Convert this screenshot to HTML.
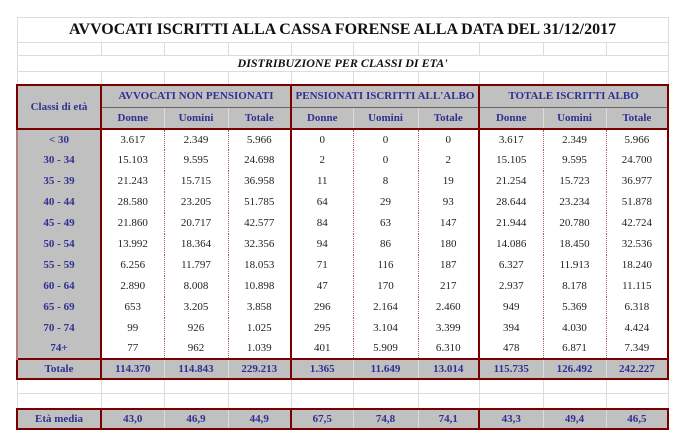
<!DOCTYPE html>
<html><head><meta charset="utf-8"><style>
body{margin:0;background:#fff;width:682px;height:446px;overflow:hidden;font-family:"Liberation Serif",serif;}
table{position:absolute;left:16px;top:17px;border-collapse:collapse;table-layout:fixed;width:651px;}
td{padding:0;text-align:center;font-size:11px;color:#222;border:1px solid #dcdcdc;white-space:nowrap;overflow:hidden;}
.t{font-size:16px;font-weight:bold;color:#111;border-bottom:1px solid #dcdcdc;}
.d{font-size:12px;font-weight:bold;font-style:italic;color:#111;}
.g{background:#c0c0c0;color:#2e3192;font-weight:bold;}
.R{border-right:2px solid #7a0000!important;}
.L{border-left:2px solid #7a0000!important;}
.T{border-top:2px solid #7a0000!important;}
.B{border-bottom:2px solid #7a0000!important;}
.dt{border-left:1px dotted #a06060;border-right:1px dotted #a06060;border-top:none;border-bottom:none;}
.h2 td{border-bottom:2px solid #7a0000;}
.gl{background:#c0c0c0;color:#2e3192;font-weight:bold;border-left:2px solid #b08080;border-right:2px solid #7a0000;border-top:none;border-bottom:none;}
</style></head><body>
<table>
<colgroup><col style="width:84px"><col style="width:63px"><col style="width:64px"><col style="width:63px"><col style="width:62px"><col style="width:65px"><col style="width:61px"><col style="width:64px"><col style="width:63px"><col style="width:62px"></colgroup>
<tr style="height:25px"><td colspan="10" class="t">AVVOCATI ISCRITTI ALLA CASSA FORENSE ALLA DATA DEL 31/12/2017</td></tr>
<tr style="height:13px"><td></td><td></td><td></td><td></td><td></td><td></td><td></td><td></td><td></td><td></td></tr>
<tr style="height:14px"><td colspan="10" class="d" style="border-bottom:1px solid #dcdcdc">DISTRIBUZIONE PER CLASSI DI ETA'</td></tr>
<tr style="height:13px"><td></td><td></td><td></td><td></td><td></td><td></td><td></td><td></td><td></td><td></td></tr>
<tr style="height:23px"><td rowspan="2" class="g T L R B" style="border-bottom:2px solid #7a0000">Classi di età</td><td colspan="3" class="g T R" style="border-bottom:1px solid #666">AVVOCATI NON PENSIONATI</td><td colspan="3" class="g T R" style="border-bottom:1px solid #666">PENSIONATI ISCRITTI ALL'ALBO</td><td colspan="3" class="g T R" style="border-bottom:1px solid #666">TOTALE ISCRITTI ALBO</td></tr>
<tr style="height:21px" class="h2"><td class="g" style="border-left:none;border-right:1px dotted #a06060">Donne</td><td class="g" style="border-right:1px dotted #a06060">Uomini</td><td class="g R">Totale</td><td class="g" style="border-right:1px dotted #a06060">Donne</td><td class="g" style="border-right:1px dotted #a06060">Uomini</td><td class="g R">Totale</td><td class="g" style="border-right:1px dotted #a06060">Donne</td><td class="g" style="border-right:1px dotted #a06060">Uomini</td><td class="g R">Totale</td></tr>
<tr style="height:21px"><td class="gl">&lt; 30</td><td class="dt">3.617</td><td class="dt">2.349</td><td class="dt R">5.966</td><td class="dt">0</td><td class="dt">0</td><td class="dt R">0</td><td class="dt">3.617</td><td class="dt">2.349</td><td class="dt R">5.966</td></tr>
<tr style="height:21px"><td class="gl">30 - 34</td><td class="dt">15.103</td><td class="dt">9.595</td><td class="dt R">24.698</td><td class="dt">2</td><td class="dt">0</td><td class="dt R">2</td><td class="dt">15.105</td><td class="dt">9.595</td><td class="dt R">24.700</td></tr>
<tr style="height:21px"><td class="gl">35 - 39</td><td class="dt">21.243</td><td class="dt">15.715</td><td class="dt R">36.958</td><td class="dt">11</td><td class="dt">8</td><td class="dt R">19</td><td class="dt">21.254</td><td class="dt">15.723</td><td class="dt R">36.977</td></tr>
<tr style="height:21px"><td class="gl">40 - 44</td><td class="dt">28.580</td><td class="dt">23.205</td><td class="dt R">51.785</td><td class="dt">64</td><td class="dt">29</td><td class="dt R">93</td><td class="dt">28.644</td><td class="dt">23.234</td><td class="dt R">51.878</td></tr>
<tr style="height:21px"><td class="gl">45 - 49</td><td class="dt">21.860</td><td class="dt">20.717</td><td class="dt R">42.577</td><td class="dt">84</td><td class="dt">63</td><td class="dt R">147</td><td class="dt">21.944</td><td class="dt">20.780</td><td class="dt R">42.724</td></tr>
<tr style="height:21px"><td class="gl">50 - 54</td><td class="dt">13.992</td><td class="dt">18.364</td><td class="dt R">32.356</td><td class="dt">94</td><td class="dt">86</td><td class="dt R">180</td><td class="dt">14.086</td><td class="dt">18.450</td><td class="dt R">32.536</td></tr>
<tr style="height:21px"><td class="gl">55 - 59</td><td class="dt">6.256</td><td class="dt">11.797</td><td class="dt R">18.053</td><td class="dt">71</td><td class="dt">116</td><td class="dt R">187</td><td class="dt">6.327</td><td class="dt">11.913</td><td class="dt R">18.240</td></tr>
<tr style="height:21px"><td class="gl">60 - 64</td><td class="dt">2.890</td><td class="dt">8.008</td><td class="dt R">10.898</td><td class="dt">47</td><td class="dt">170</td><td class="dt R">217</td><td class="dt">2.937</td><td class="dt">8.178</td><td class="dt R">11.115</td></tr>
<tr style="height:21px"><td class="gl">65 - 69</td><td class="dt">653</td><td class="dt">3.205</td><td class="dt R">3.858</td><td class="dt">296</td><td class="dt">2.164</td><td class="dt R">2.460</td><td class="dt">949</td><td class="dt">5.369</td><td class="dt R">6.318</td></tr>
<tr style="height:21px"><td class="gl">70 - 74</td><td class="dt">99</td><td class="dt">926</td><td class="dt R">1.025</td><td class="dt">295</td><td class="dt">3.104</td><td class="dt R">3.399</td><td class="dt">394</td><td class="dt">4.030</td><td class="dt R">4.424</td></tr>
<tr style="height:20px"><td class="gl">74+</td><td class="dt">77</td><td class="dt">962</td><td class="dt R">1.039</td><td class="dt">401</td><td class="dt">5.909</td><td class="dt R">6.310</td><td class="dt">478</td><td class="dt">6.871</td><td class="dt R">7.349</td></tr>
<tr style="height:20px"><td class="g T B L R">Totale</td><td class="g T B" style="border-right:1px dotted #a06060">114.370</td><td class="g T B" style="border-right:1px dotted #a06060">114.843</td><td class="g T B R">229.213</td><td class="g T B" style="border-right:1px dotted #a06060">1.365</td><td class="g T B" style="border-right:1px dotted #a06060">11.649</td><td class="g T B R">13.014</td><td class="g T B" style="border-right:1px dotted #a06060">115.735</td><td class="g T B" style="border-right:1px dotted #a06060">126.492</td><td class="g T B R">242.227</td></tr>
<tr style="height:15px"><td></td><td></td><td></td><td></td><td></td><td></td><td></td><td></td><td></td><td></td></tr>
<tr style="height:15px"><td></td><td></td><td></td><td></td><td></td><td></td><td></td><td></td><td></td><td></td></tr>
<tr style="height:20px"><td class="g T B L R">Età media</td><td class="g T B" style="border-right:1px dotted #a06060">43,0</td><td class="g T B" style="border-right:1px dotted #a06060">46,9</td><td class="g T B R">44,9</td><td class="g T B" style="border-right:1px dotted #a06060">67,5</td><td class="g T B" style="border-right:1px dotted #a06060">74,8</td><td class="g T B R">74,1</td><td class="g T B" style="border-right:1px dotted #a06060">43,3</td><td class="g T B" style="border-right:1px dotted #a06060">49,4</td><td class="g T B R">46,5</td></tr>
</table>
</body></html>
